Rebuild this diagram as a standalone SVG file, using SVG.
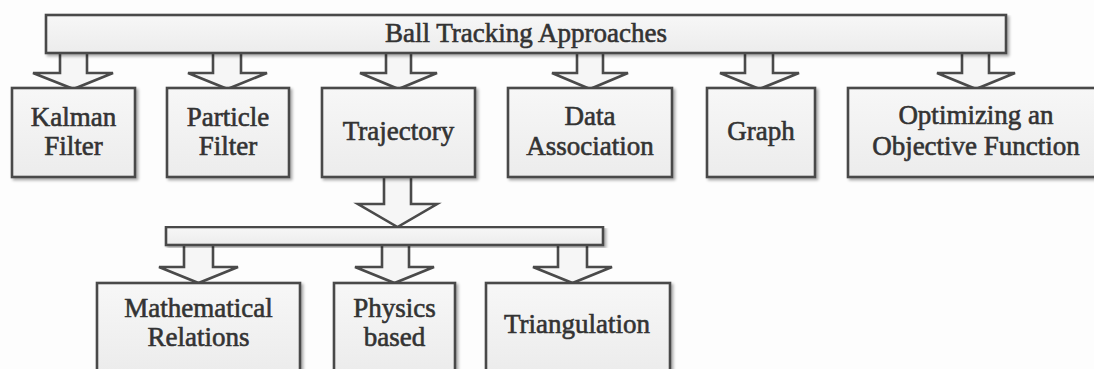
<svg xmlns="http://www.w3.org/2000/svg" width="1094" height="369" viewBox="0 0 1094 369">
<defs>
<linearGradient id="boxfill" x1="0" y1="0" x2="0" y2="1">
<stop offset="0" stop-color="#f7f7f7"/>
<stop offset="1" stop-color="#ececec"/>
</linearGradient>
<filter id="sh" x="-5%" y="-5%" width="115%" height="120%">
<feGaussianBlur in="SourceAlpha" stdDeviation="1.5"/>
<feOffset dx="2" dy="2" result="b"/>
<feComponentTransfer><feFuncA type="linear" slope="0.35"/></feComponentTransfer>
<feMerge><feMergeNode/><feMergeNode in="SourceGraphic"/></feMerge>
</filter>
</defs>
<style>
.box{fill:url(#boxfill);stroke:#4a4a4a;stroke-width:2.6;filter:url(#sh)}
.arr{fill:#f6f6f6;stroke:#4a4a4a;stroke-width:2.6;stroke-linejoin:miter}
.t{font-family:"Liberation Serif","Times New Roman",serif;font-size:27px;fill:#333;stroke:#333;stroke-width:0.6;text-anchor:middle}
</style>
<rect width="1094" height="369" fill="#fdfdfd"/>

<g id="connectors">
<path class="arr" d="M60,53 V73 H33 L73.5,89 L113,73 H87 V53"/>
<path class="arr" d="M213,53 V73 H188 L227.5,89 L267,73 H241 V53"/>
<path class="arr" d="M386,53 V73 H360 L398.5,89 L437,73 H411 V53"/>
<path class="arr" d="M577,53 V73 H552 L590,89 L628,73 H603 V53"/>
<path class="arr" d="M745,53 V73 H720 L759.5,89 L799,73 H773 V53"/>
<path class="arr" d="M962,53 V73 H937 L976,89 L1015,73 H989 V53"/>
<path class="arr" d="M384,177 V204 H358 L397.5,227 L437,204 H411 V177"/>
<path class="arr" d="M184,245 V267 H159 L198.5,283 L238,267 H213 V245"/>
<path class="arr" d="M382,245 V267 H355 L394.5,283 L434,267 H409 V245"/>
<path class="arr" d="M558,245 V267 H533 L572.5,283 L612,267 H587 V245"/>
</g>

<g id="root">
<rect class="box" x="46" y="15" width="960" height="38"/>
<text class="t" x="526" y="42">Ball Tracking Approaches</text>
</g>

<g id="trajectory-split">
<rect class="box" x="166" y="227" width="437" height="18"/>
</g>

<g id="kalman">
<rect class="box" x="12" y="88" width="123" height="89"/>
<text class="t" x="73.5" y="126">Kalman</text>
<text class="t" x="73.5" y="155">Filter</text>
</g>
<g id="particle">
<rect class="box" x="167" y="88" width="122" height="89"/>
<text class="t" x="228" y="126">Particle</text>
<text class="t" x="228" y="155">Filter</text>
</g>
<g id="trajectory">
<rect class="box" x="322" y="88" width="153" height="89"/>
<text class="t" x="398.5" y="140">Trajectory</text>
</g>
<g id="data-association">
<rect class="box" x="508" y="88" width="164" height="89"/>
<text class="t" x="590" y="125">Data</text>
<text class="t" x="590" y="155">Association</text>
</g>
<g id="graph">
<rect class="box" x="707" y="88" width="108" height="89"/>
<text class="t" x="761" y="140">Graph</text>
</g>
<g id="optimizing">
<rect class="box" x="848" y="88" width="256" height="89"/>
<text class="t" x="976" y="124">Optimizing an</text>
<text class="t" x="976" y="155">Objective Function</text>
</g>

<g id="mathematical">
<rect class="box" x="97" y="283" width="203" height="88"/>
<text class="t" x="198.5" y="317">Mathematical</text>
<text class="t" x="198.5" y="346">Relations</text>
</g>
<g id="physics">
<rect class="box" x="334" y="283" width="121" height="88"/>
<text class="t" x="394.5" y="317">Physics</text>
<text class="t" x="394.5" y="346">based</text>
</g>
<g id="triangulation">
<rect class="box" x="486" y="283" width="184" height="88"/>
<text class="t" x="577" y="333">Triangulation</text>
</g>
</svg>
